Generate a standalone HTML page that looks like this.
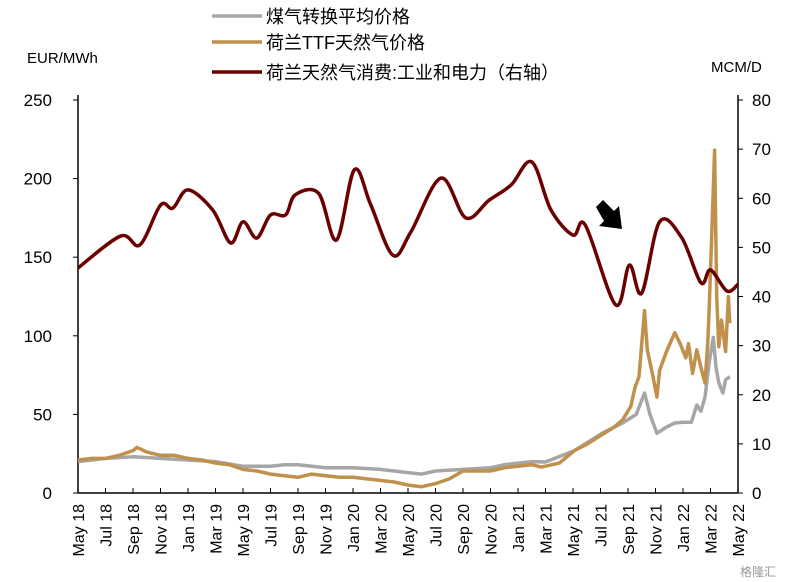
<!DOCTYPE html>
<html><head><meta charset="utf-8"><style>
body{margin:0;background:#fff;}
svg{display:block;font-family:"Liberation Sans","Noto Sans CJK SC",sans-serif;}
</style></head><body>
<svg id="c" width="797" height="582"></svg>
<script>
const xLabels=["May 18","Jul 18","Sep 18","Nov 18","Jan 19","Mar 19","May 19","Jul 19","Sep 19","Nov 19","Jan 20","Mar 20","May 20","Jul 20","Sep 20","Nov 20","Jan 21","Mar 21","May 21","Jul 21","Sep 21","Nov 21","Jan 22","Mar 22","May 22"];
const leftTicks=[0,50,100,150,200,250];
const rightTicks=[0,10,20,30,40,50,60,70,80];
// consumption (right axis): months since May 2018, MCM/D
const consM=[0,3.1,4.5,6,6.9,8,9.8,11.1,12,13,14,15.1,15.8,17.5,18.8,20.1,21.3,22.9,24.2,26.4,28.2,29.9,31.5,33,34.4,36,36.9,39.1,40.1,41,42.3,43.9,45.3,46,47.2,48];
const consV=[45.8,52.3,50.5,58.6,58,61.7,57.6,50.9,55.2,51.9,56.6,56.6,60.7,61,51.5,65.8,58.6,48.4,53.1,64.1,56,59.6,62.7,67.4,57.6,52.5,54.5,38.3,46.4,40.7,55.2,52,42.8,45.4,41.1,42.5];
// TTF price (left axis)
const ttfM=[0,1,2,3,4,4.3,5,6,7,8,9,10,11,12,13,14,15,16,17,18,19,20,21,22,23,24,25,26,27,28,29,30,31,32,33,33.7,35,36.1,37,38.1,39,39.6,40.2,40.5,40.8,41.2,41.4,41.8,42.1,42.3,42.8,43.4,43.8,44.2,44.4,44.7,45,45.3,45.6,45.8,45.9,46.1,46.3,46.45,46.6,46.8,47.1,47.3,47.4];
const ttfV=[21,22,22,24,27,29,26,24,24,22,21,19,18,15,14,12,11,10,12,11,10,10,9,8,7,5,4,6,9,14,14,14,16,17,18,16.5,19,27,31,37,42,46.5,55,67,74,116,91,75,61,78,90,102,95,86,95,76,91,80,70,95,116,167,218,125,93,110,90,125,108];
// Fuel switching average price (left axis)
const swM=[0,2,4,6,8,10,12,14,15,16,18,20,22,24,25,26,28,30,31,33,34,36.1,38.1,39.6,40.6,41.2,41.6,42.1,42.8,43.4,44,44.6,45,45.3,45.6,45.9,46.2,46.4,46.6,46.9,47.1,47.4];
const swV=[20,22,23,22,21,20,17,17,18,18,16,16,15,13,12,14,15,16,18,20,19.7,27,38,44.5,50,63.6,50,38,42,44.5,45,45,56,52,61,82.7,99,80,70,63.6,72,74];

const svg=document.getElementById('c');const NS='http://www.w3.org/2000/svg';
function el(t,a,p){const e=document.createElementNS(NS,t);for(const k in a)e.setAttribute(k,a[k]);(p||svg).appendChild(e);return e;}
const X0=78,X1=738,Y0=493,YT=100;
const xs=m=>X0+m*(X1-X0)/48;
const yl=v=>Y0-v*(Y0-YT)/250;
const yr=v=>Y0-v*(Y0-YT)/80;

let a=el('line',{x1:X0,y1:YT-5,x2:X0,y2:Y0,stroke:'#000','stroke-width':1.5});

a=el('line',{x1:X1,y1:YT-5,x2:X1,y2:Y0,stroke:'#000','stroke-width':1.5});

a=el('line',{x1:X0,y1:Y0,x2:X1,y2:Y0,stroke:'#000','stroke-width':1.5});

leftTicks.forEach(v=>{el('line',{x1:X0-5,x2:X0,y1:yl(v),y2:yl(v),stroke:'#000'});
 const t=el('text',{x:52,y:yl(v)+6,'text-anchor':'end','font-size':17});t.textContent=v;
 });
rightTicks.forEach(v=>{el('line',{x1:X1,x2:X1+5,y1:yr(v),y2:yr(v),stroke:'#000'});
 const t=el('text',{x:752,y:yr(v)+6,'font-size':17});t.textContent=v;
 });
xLabels.forEach((s,i)=>{const x=xs(i*2);
 el('line',{x1:x,x2:x,y1:Y0,y2:Y0-5,stroke:'#000'});
 const t=el('text',{x:0,y:0,'font-size':16,'text-anchor':'end',transform:`translate(${x+6},504) rotate(-90)`});t.textContent=s;
 });
let t=el('text',{x:27,y:63,'font-size':15});t.textContent='EUR/MWh';

t=el('text',{x:711,y:72,'font-size':15});t.textContent='MCM/D';


function poly(M,V,fy,col,w,name){const d=M.map((m,i)=>(i?'L':'M')+xs(m).toFixed(1)+','+fy(V[i]).toFixed(1)).join('');
 const p=el('path',{d,fill:'none',stroke:col,'stroke-width':w,'stroke-linejoin':'round'});
 }
function smooth(M,V,fy,col,w,name){const P=M.map((m,i)=>[xs(m),fy(V[i])]);let d='M'+P[0];
 for(let i=0;i<P.length-1;i++){const p0=P[i-1]||P[i],p1=P[i],p2=P[i+1],p3=P[i+2]||p2;
  const c1=[p1[0]+(p2[0]-p0[0])/6,p1[1]+(p2[1]-p0[1])/6],c2=[p2[0]-(p3[0]-p1[0])/6,p2[1]-(p3[1]-p1[1])/6];
  d+='C'+c1+' '+c2+' '+p2;}
 const p=el('path',{d,fill:'none',stroke:col,'stroke-width':w});
 }
poly(swM,swV,yl,'#a6a6a6',3.5,'fuel-switch-price-line');
poly(ttfM,ttfV,yl,'#c0904d',3.5,'ttf-price-line');
smooth(consM,consV,yr,'#6b0000',3.5,'consumption-line');

const ar=el('polygon',{points:'596,207 603,200 614,211 619,206 622,229 599,226 604,221',fill:'#000'});


const leg=[['#a6a6a6','煤气转换平均价格',16],['#c0904d','荷兰TTF天然气价格',42],['#6b0000',' 荷兰天然气消费:工业和电力（右轴）',72]];
leg.forEach(([c,s,y])=>{const g=el('g',{});
 el('line',{x1:212,x2:262,y1:y,y2:y,stroke:c,'stroke-width':3.5},g);
 const tx=el('text',{x:266,y:y+7,'font-size':18},g);tx.textContent=s;});
t=el('text',{x:740,y:576,'font-size':12,fill:'#999'});t.textContent='格隆汇';

</script>
</body></html>
